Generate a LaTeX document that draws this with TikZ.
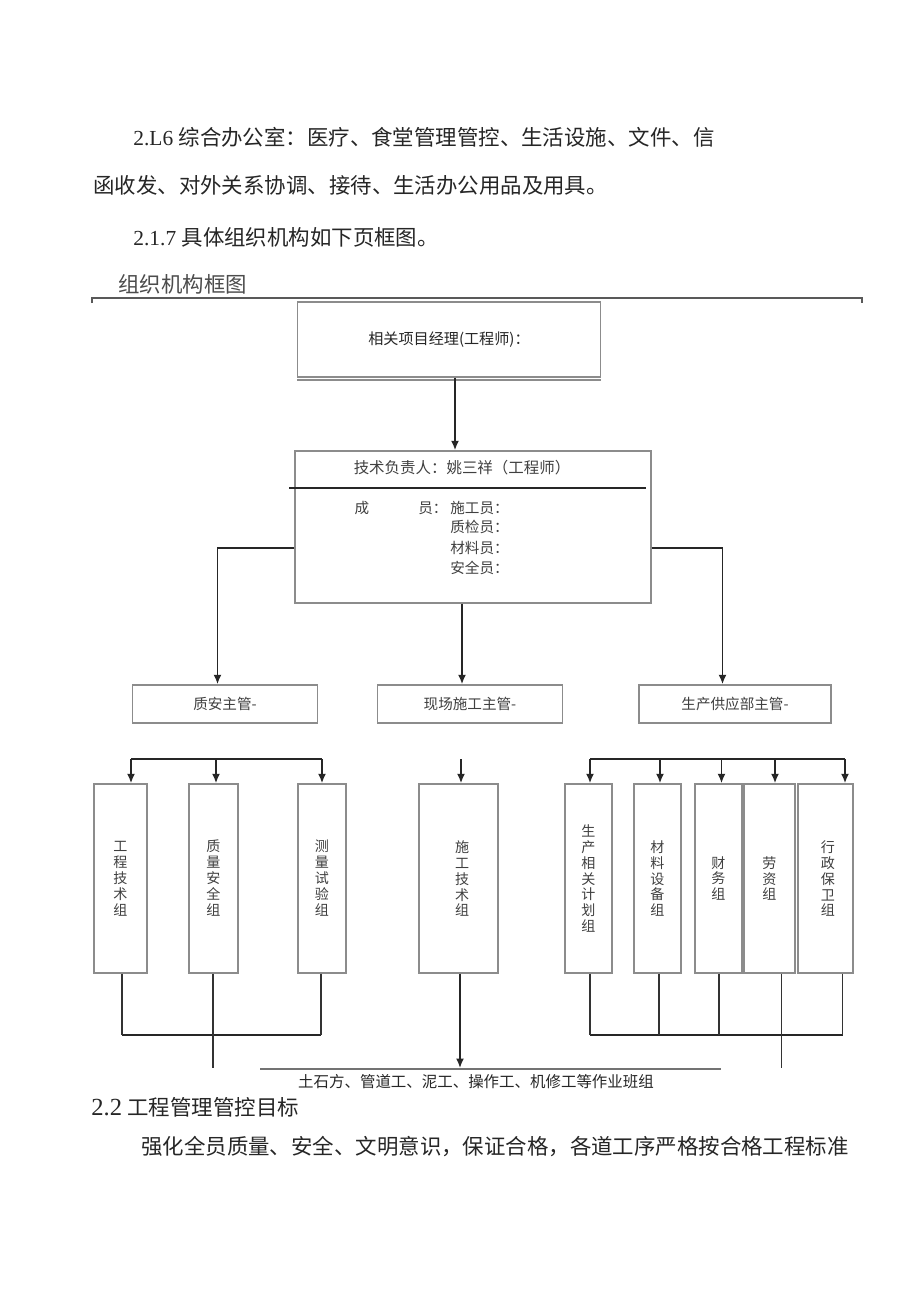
\documentclass[tikz,border=0pt]{standalone}
\usepackage{fontspec}
\setmainfont{Liberation Serif}
\newfontfamily\cjk{Noto Sans CJK SC}
\usetikzlibrary{arrows.meta}
\begin{document}
\begin{tikzpicture}[x=0.02cm,y=-0.02cm,
  body/.style={anchor=west,inner sep=0,font=\fontsize{12.2}{14}\selectfont,text=black!85},
  box/.style={draw=black!45,line width=0.8pt,fill=white,inner sep=0,text=black!75,
    font=\cjk\fontsize{8.3}{10}\selectfont,align=center},
  vbox/.style={box,minimum height=3.78cm,font=\cjk\fontsize{8}{9.1}\selectfont},
  mbox/.style={box,minimum height=0.76cm},
  conn/.style={draw=black!85,line width=1.1pt},
  thinln/.style={draw=black!80,line width=0.9pt},
  arr/.style={conn,-{Latex[length=1.9mm,width=1.6mm]}},
  small/.style={inner sep=0,text=black!75,font=\cjk\fontsize{8.3}{10}\selectfont}]
\useasboundingbox[fill=white] (0,0) rectangle (920,1301);

% body text
\node[body] (p1) at (133,137) {2.L6 {\cjk 综合办公室：医疗、食堂管理管控、生活设施、文件、信}};
\node[body] (p2) at (93,185) {\cjk 函收发、对外关系协调、接待、生活办公用品及用具。};
\node[body] (p3) at (133,237) {2.1.7 {\cjk 具体组织机构如下页框图。}};
\node[body,text=black!70] (cap) at (118,284) {\cjk 组织机构框图};
\draw[draw=black!65,line width=1.3pt] (92,303) -- (92,298) -- (862,298) -- (862,303);

% top box
\node[box,minimum width=6.05cm,minimum height=1.5cm,text=black!85,
  font=\cjk\fontsize{8.6}{10}\selectfont] (pm) at (449,339.5) {相关项目经理(工程师)：};
\draw[draw=black!45,line width=0.8pt] ([yshift=-0.05cm]pm.south west) -- ([yshift=-0.05cm]pm.south east);

% technical box
\node[box,minimum width=7.12cm,minimum height=3.04cm] (tech) at (473,527) {};
\node[small,font=\cjk\fontsize{8.8}{10}\selectfont] (tl) at (462,468) {技术负责人：姚三祥（工程师）};
\draw[conn,line width=1pt] (289,488) -- (646,488);
\node[small] (m0) at (362,508) {成};
\node[small,anchor=west] (m1) at (418,508) {员：};
\node[small,anchor=west] (m2) at (450,508) {施工员：};
\node[small,anchor=west] (m3) at (450,527) {质检员：};
\node[small,anchor=west] (m4) at (450,548) {材料员：};
\node[small,anchor=west] (m5) at (450,568) {安全员：};

\draw[arr] (pm.south -| 455,0) -- (tech.north -| 455,0);

% middle boxes
\node[mbox,minimum width=3.7cm] (qa) at (225,704) {质安主管-};
\node[mbox,minimum width=3.7cm] (site) at (470,704) {现场施工主管-};
\node[mbox,minimum width=3.84cm] (sup) at (735,704) {生产供应部主管-};

\draw[arr] ([yshift=-0.42cm]tech.west) -| ([xshift=-0.15cm]qa.north);
\draw[arr] ([xshift=-0.16cm]site.north |- tech.south) -- ([xshift=-0.16cm]site.north);
\draw[arr] ([yshift=-0.42cm]tech.east) -| ([xshift=-0.25cm]sup.north);

% vertical boxes
\node[vbox,minimum width=1.06cm] (gj) at (120.5,878.5) {工\\程\\技\\术\\组};
\node[vbox,minimum width=0.98cm] (zl) at (213.5,878.5) {质\\量\\安\\全\\组};
\node[vbox,minimum width=0.96cm] (cs) at (322,878.5) {测\\量\\试\\验\\组};
\node[vbox,minimum width=1.58cm] (sj) at (458.5,878.5) {\hspace{0.15cm}施\\\hspace{0.15cm}工\\\hspace{0.15cm}技\\\hspace{0.15cm}术\\\hspace{0.15cm}组};
\node[vbox,minimum width=0.94cm] (sc) at (588.5,878.5) {生\\产\\相\\关\\计\\划\\组};
\node[vbox,minimum width=0.94cm] (cl) at (657.5,878.5) {材\\料\\设\\备\\组};
\node[vbox,minimum width=0.94cm] (cw) at (718.5,878.5) {财\\务\\组};
\node[vbox,minimum width=1.02cm] (lz) at (769.5,878.5) {劳\\资\\组};
\node[vbox,minimum width=1.1cm] (xz) at (825.5,878.5) {\hspace{0.1cm}行\\\hspace{0.1cm}政\\\hspace{0.1cm}保\\\hspace{0.1cm}卫\\\hspace{0.1cm}组};

% upper buses
\coordinate (lt1) at (131,759);
\coordinate (lt2) at (216,759);
\coordinate (lt3) at (322,759);
\draw[conn] (lt1) -- (lt3);
\draw[arr] (lt1) -- (lt1 |- gj.north);
\draw[arr] (lt2) -- (lt2 |- zl.north);
\draw[arr] (lt3) -- (lt3 |- cs.north);

\coordinate (mt) at (461,759);
\draw[arr] (mt) -- (mt |- sj.north);

\coordinate (rt1) at (590,759);
\coordinate (rt2) at (660,759);
\coordinate (rt3) at (721.5,759);
\coordinate (rt4) at (775,759);
\coordinate (rt5) at (845,759);
\draw[conn] (rt1) -- (rt5);
\draw[arr] (rt1) -- (rt1 |- sc.north);
\draw[arr] (rt2) -- (rt2 |- cl.north);
\draw[arr] (rt3) -- (rt3 |- cw.north);
\draw[arr] (rt4) -- (rt4 |- lz.north);
\draw[arr] (rt5) -- (rt5 |- xz.north);

% lower buses
\coordinate (lb1) at (122,1035);
\coordinate (lb2) at (213,1068);
\coordinate (lb3) at (321,1035);
\draw[conn] (lb1) -- (lb3);
\draw[thinln] (gj.south -| lb1) -- (lb1);
\draw[thinln] (zl.south -| lb2) -- (lb2);
\draw[thinln] (cs.south -| lb3) -- (lb3);

\coordinate (mb) at (460,1068);
\draw[arr,line width=0.9pt] (sj.south -| mb) -- (mb);

\coordinate (rb1) at (590,1035);
\coordinate (rb2) at (659,1035);
\coordinate (rb3) at (719,1035);
\coordinate (rb4) at (781.5,1068);
\coordinate (rb5) at (842.5,1035);
\draw[conn] (rb1) -- (rb5);
\draw[thinln] (sc.south -| rb1) -- (rb1);
\draw[thinln] (cl.south -| rb2) -- (rb2);
\draw[thinln] (cw.south -| rb3) -- (rb3);
\draw[thinln] (lz.south -| rb4) -- (rb4);
\draw[thinln] (xz.south -| rb5) -- (rb5);

\coordinate (tl1) at (260,1069);
\coordinate (tl2) at (721,1069);
\draw[draw=black!55,line width=0.8pt] (tl1) -- (tl2);
\node[small,text=black!85,font=\cjk\fontsize{8.8}{10}\selectfont] (team) at (476,1082) {土石方、管道工、泥工、操作工、机修工等作业班组};

% bottom text
\node[body] (h22) at (91,1107) {{\fontsize{14}{16}\selectfont 2.2} {\cjk 工程管理管控目标}};
\node[body] (p4) at (141,1147) {\cjk 强化全员质量、安全、文明意识，保证合格，各道工序严格按合格工程标准};
\end{tikzpicture}
\end{document}
